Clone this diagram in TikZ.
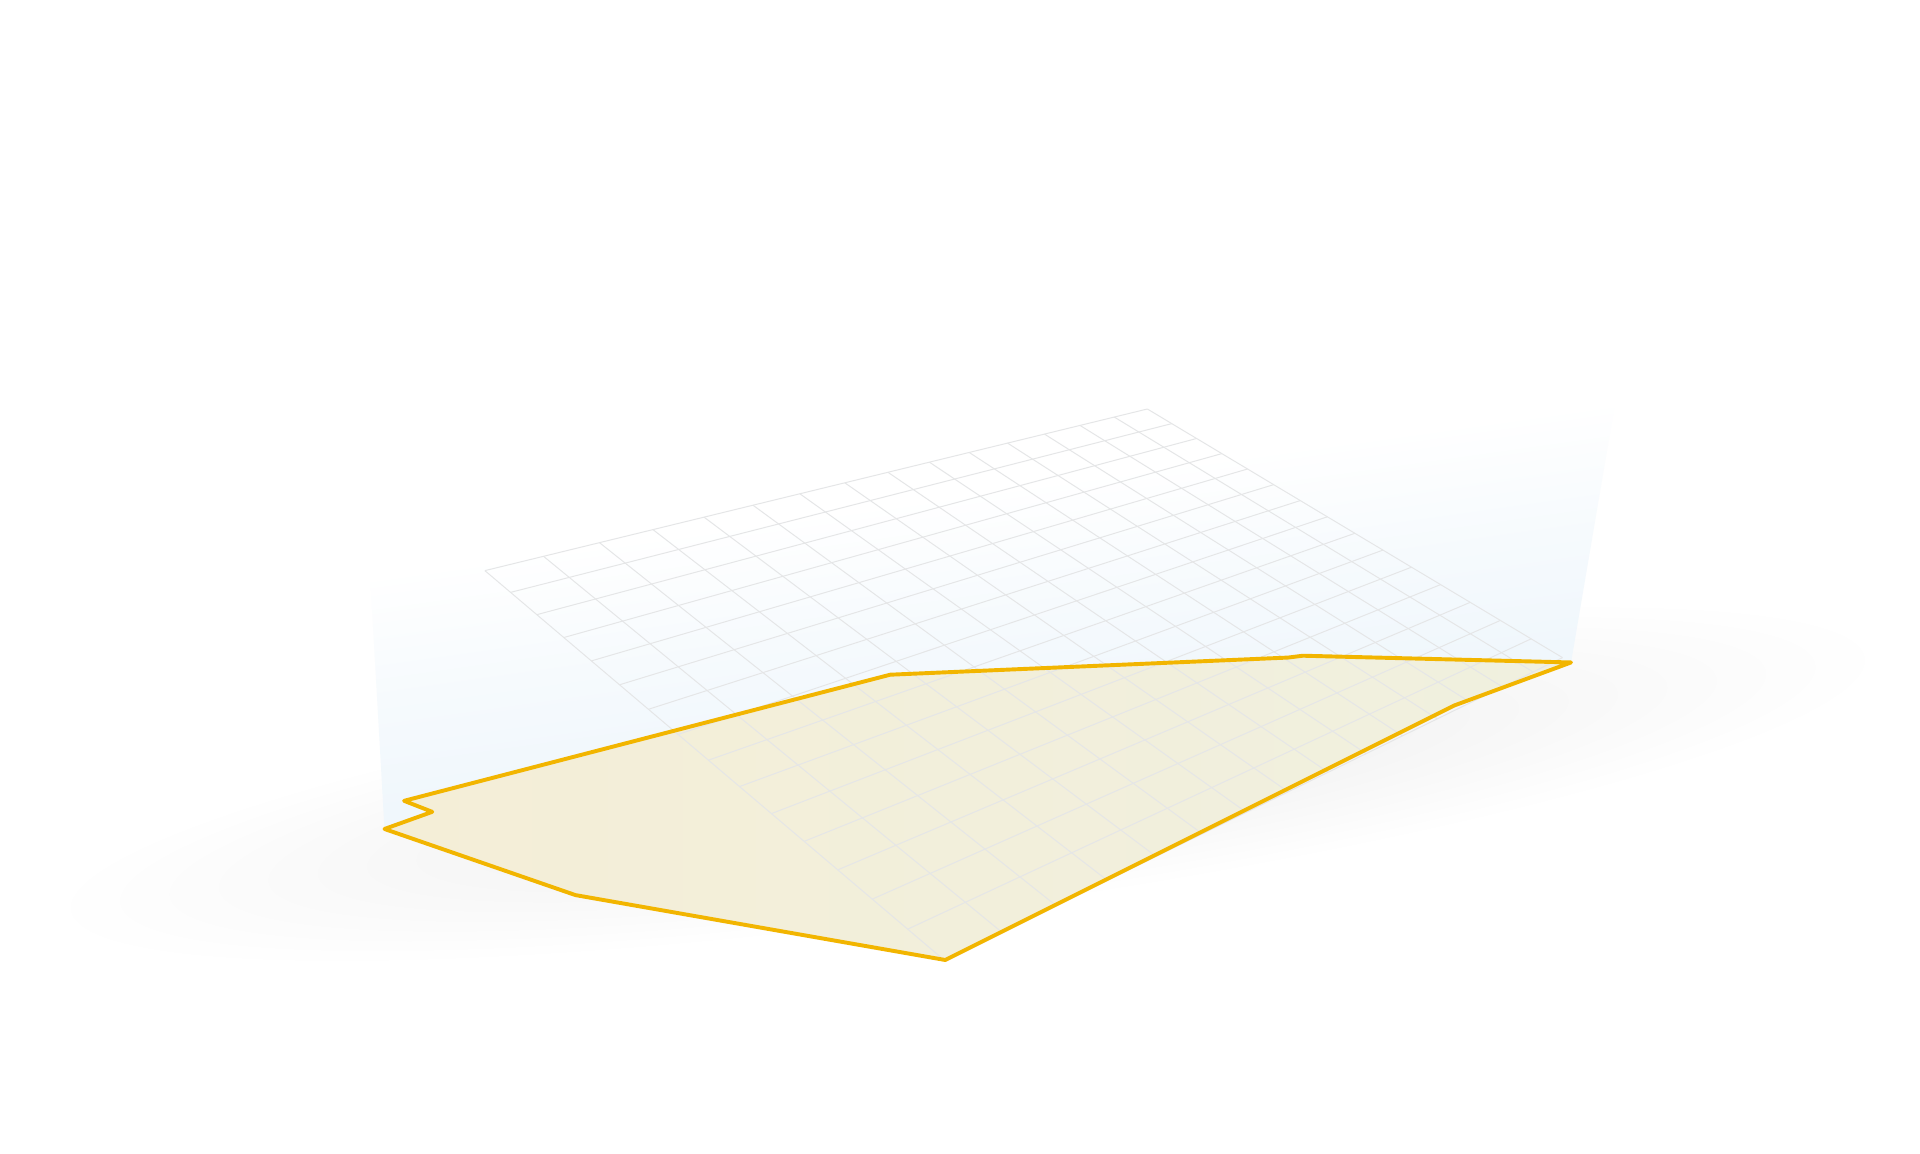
\documentclass[tikz,border=0pt]{standalone}
\definecolor{glowblue}{RGB}{240,247,252}
\definecolor{shadowgray}{RGB}{241,241,241}
\definecolor{gridgray}{RGB}{229,230,231}
\definecolor{edgeyellow}{RGB}{242,181,0}
\definecolor{fillA}{RGB}{244,238,215}
\definecolor{fillB}{RGB}{240,240,223}
\pgfdeclareverticalshading{glowshade}{100bp}{color(0bp)=(glowblue); color(37bp)=(glowblue); color(46bp)=(glowblue!60!white); color(56bp)=(white); color(100bp)=(white)}
\pgfdeclareradialshading{shadowshade}{\pgfpoint{0bp}{0bp}}{color(0bp)=(shadowgray); color(10bp)=(shadowgray!80!white); color(25bp)=(white); color(50bp)=(white)}
\tikzset{
  gridline/.style={draw=gridgray, line width=0.8pt},
  outline/.style={draw=edgeyellow, line width=3.2pt, line join=round, line cap=round},
}
\begin{document}
\begin{tikzpicture}[x=1pt,y=-1pt]
\useasboundingbox (0,0) rectangle (1568,942);
\fill[white] (0,0) rectangle (1568,942);
% soft shadow
\shade[shading=shadowshade, transform canvas={rotate around={8:(790,640)}}] (790,640) ellipse [x radius=760, y radius=105];
% polygon vertices
\coordinate (p1) at (330,654);
\coordinate (p2) at (353,663);
\coordinate (p3) at (314,677);
\coordinate (p4) at (470,731);
\coordinate (p5) at (772,784);
\coordinate (p6) at (1188,576);
\coordinate (p7) at (1283,541);
\coordinate (p8) at (1064,535.5);
\coordinate (p9) at (1052,537);
\coordinate (p10) at (727,551);
% glow walls
\coordinate (gtl) at (297,377);
\coordinate (gtr) at (1334,241);
\shade[shading=glowshade, shading angle=8] (p3) -- (gtl) -- (gtr) -- (p7) -- cycle;
% polygon fill
\shade[left color=fillA, right color=fillB] (p1) -- (p2) -- (p3) -- (p4) -- (p5) -- (p6) -- (p7) -- (p8) -- (p9) -- (p10) -- cycle;
% perspective grid
\foreach \i in {0,...,15}{
  \pgfmathsetmacro\u{\i/15}
  \pgfmathsetmacro\dA{0.35956*\u + 1}
  \pgfmathsetmacro\xA{(877.9*\u + 396)/\dA}
  \pgfmathsetmacro\yA{(-11.9*\u + 466)/\dA}
  \pgfmathsetmacro\dB{0.35956*\u + 0.82992}
  \pgfmathsetmacro\xB{(877.9*\u + 639.9)/\dB}
  \pgfmathsetmacro\yB{(-11.9*\u + 650.7)/\dB}
  \draw[gridline] (\xA,\yA) -- (\xB,\yB);
  \pgfmathsetmacro\v{\i/15}
  \pgfmathsetmacro\dC{1 - 0.17008*\v}
  \pgfmathsetmacro\xC{(243.9*\v + 396)/\dC}
  \pgfmathsetmacro\yC{(184.7*\v + 466)/\dC}
  \pgfmathsetmacro\dD{1.35956 - 0.17008*\v}
  \pgfmathsetmacro\xD{(243.9*\v + 1273.9)/\dD}
  \pgfmathsetmacro\yD{(184.7*\v + 454.1)/\dD}
  \draw[gridline] (\xC,\yC) -- (\xD,\yD);
}
% polygon outline
\draw[outline] (p1) -- (p2) -- (p3) -- (p4) -- (p5) -- (p6) -- (p7) -- (p8) -- (p9) -- (p10) -- cycle;
\end{tikzpicture}
\end{document}
